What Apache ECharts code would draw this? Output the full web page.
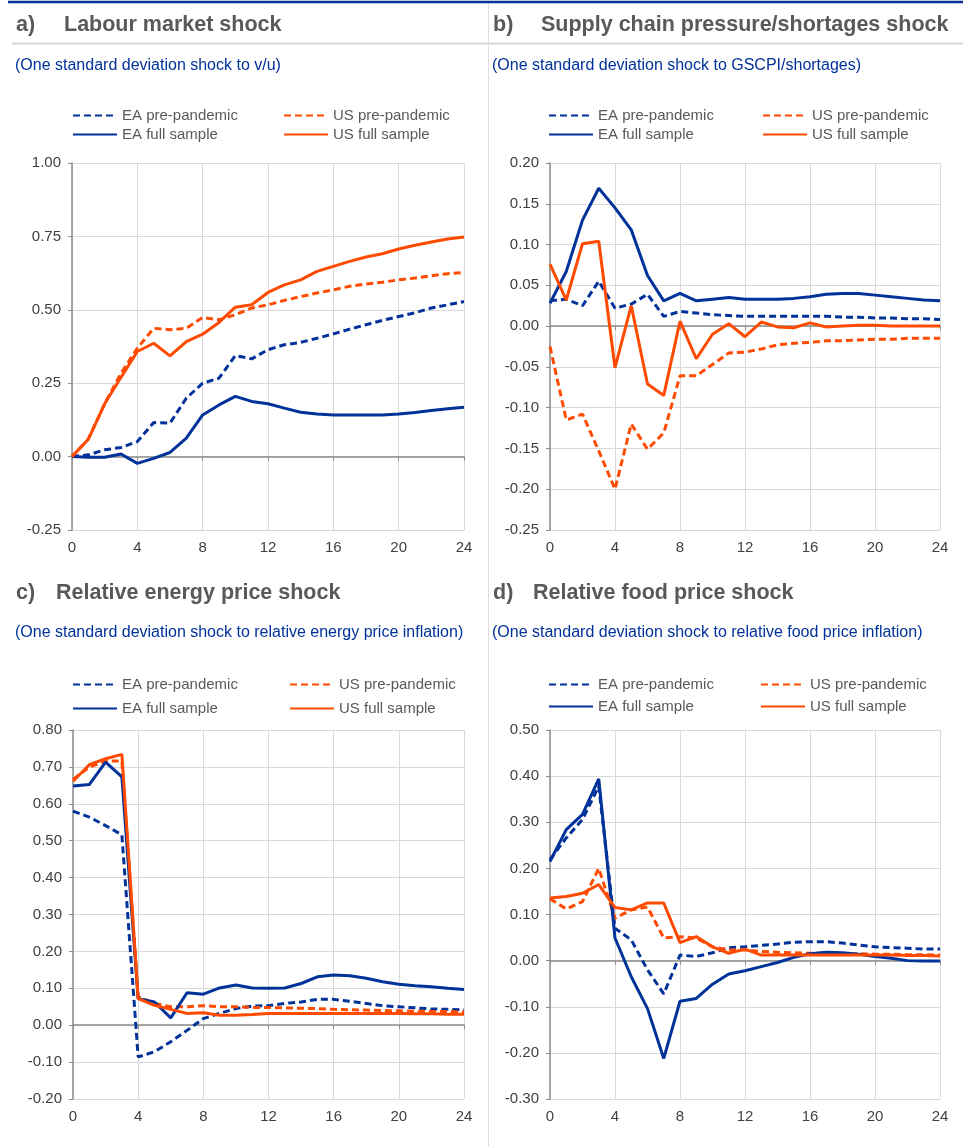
<!DOCTYPE html>
<html>
<head>
<meta charset="utf-8">
<script src="https://cdn.jsdelivr.net/npm/echarts@6/dist/echarts.min.js"></script>
<style>
  html, body { margin: 0; padding: 0; background: #fff; }
  #chart { width: 963px; height: 1146px; }
</style>
</head>
<body>
<div id="chart"></div>
<script>
// horizon in months
var months = [0, 1, 2, 3, 4, 5, 6, 7, 8, 9, 10, 11, 12, 13, 14, 15, 16, 17, 18, 19, 20, 21, 22, 23, 24];
var seriesNames = ['EA pre-pandemic', 'US pre-pandemic', 'EA full sample', 'US full sample'];

// a) labour market shock
var labourEaPre = [0, 0.006, 0.023, 0.031, 0.051, 0.116, 0.114, 0.199, 0.25, 0.267, 0.344, 0.333, 0.364, 0.381, 0.389, 0.403, 0.418, 0.434, 0.449, 0.464, 0.477, 0.49, 0.506, 0.517, 0.528];
var labourUsPre = [0, 0.06, 0.18, 0.284, 0.369, 0.437, 0.432, 0.437, 0.474, 0.466, 0.483, 0.506, 0.517, 0.532, 0.545, 0.557, 0.568, 0.58, 0.588, 0.594, 0.602, 0.608, 0.616, 0.623, 0.627];
var labourEaFull = [0, -0.002, -0.002, 0.009, -0.023, -0.006, 0.014, 0.063, 0.142, 0.176, 0.205, 0.188, 0.18, 0.165, 0.151, 0.145, 0.142, 0.142, 0.142, 0.142, 0.145, 0.15, 0.157, 0.163, 0.168];
var labourUsFull = [0, 0.059, 0.18, 0.27, 0.358, 0.386, 0.343, 0.392, 0.417, 0.457, 0.509, 0.517, 0.559, 0.585, 0.602, 0.631, 0.648, 0.665, 0.68, 0.691, 0.707, 0.72, 0.731, 0.741, 0.748];

// b) supply chain pressure/shortages shock
var supplyEaPre = [0.031, 0.033, 0.025, 0.055, 0.022, 0.027, 0.039, 0.012, 0.018, 0.016, 0.014, 0.013, 0.012, 0.012, 0.012, 0.012, 0.012, 0.012, 0.011, 0.011, 0.010, 0.010, 0.009, 0.009, 0.008];
var supplyUsPre = [-0.025, -0.115, -0.108, -0.153, -0.2, -0.12, -0.151, -0.131, -0.061, -0.061, -0.047, -0.033, -0.032, -0.028, -0.023, -0.021, -0.020, -0.018, -0.018, -0.017, -0.016, -0.016, -0.015, -0.015, -0.015];
var supplyEaFull = [0.028, 0.067, 0.13, 0.169, 0.145, 0.118, 0.062, 0.031, 0.04, 0.031, 0.033, 0.035, 0.033, 0.033, 0.033, 0.034, 0.036, 0.039, 0.04, 0.04, 0.038, 0.036, 0.034, 0.032, 0.031];
var supplyUsFull = [0.076, 0.032, 0.101, 0.104, -0.051, 0.025, -0.071, -0.085, 0.006, -0.04, -0.01, 0.003, -0.013, 0.005, -0.001, -0.002, 0.004, -0.001, 0, 0.001, 0.001, 0, 0, 0, 0];

// c) relative energy price shock
var energyEaPre = [0.58, 0.564, 0.541, 0.516, -0.086, -0.072, -0.045, -0.014, 0.018, 0.032, 0.045, 0.052, 0.053, 0.059, 0.063, 0.07, 0.07, 0.065, 0.059, 0.053, 0.05, 0.047, 0.044, 0.043, 0.041];
var energyUsPre = [0.666, 0.699, 0.716, 0.716, 0.077, 0.059, 0.05, 0.05, 0.053, 0.05, 0.05, 0.048, 0.048, 0.047, 0.046, 0.045, 0.043, 0.042, 0.041, 0.04, 0.039, 0.038, 0.037, 0.037, 0.036];
var energyEaFull = [0.648, 0.652, 0.713, 0.673, 0.072, 0.063, 0.02, 0.088, 0.084, 0.101, 0.109, 0.101, 0.1, 0.101, 0.113, 0.131, 0.136, 0.134, 0.127, 0.118, 0.111, 0.107, 0.104, 0.1, 0.097];
var energyUsFull = [0.661, 0.706, 0.722, 0.734, 0.072, 0.054, 0.043, 0.032, 0.034, 0.027, 0.027, 0.029, 0.032, 0.032, 0.032, 0.032, 0.032, 0.032, 0.032, 0.032, 0.032, 0.031, 0.031, 0.03, 0.03];

// d) relative food price shock
var foodEaPre = [0.219, 0.266, 0.306, 0.378, 0.07, 0.045, -0.02, -0.072, 0.012, 0.009, 0.017, 0.028, 0.03, 0.033, 0.036, 0.04, 0.041, 0.041, 0.038, 0.034, 0.03, 0.028, 0.027, 0.025, 0.025];
var foodUsPre = [0.134, 0.112, 0.128, 0.2, 0.092, 0.11, 0.116, 0.049, 0.052, 0.049, 0.03, 0.023, 0.023, 0.02, 0.018, 0.017, 0.016, 0.016, 0.015, 0.015, 0.014, 0.014, 0.013, 0.013, 0.012];
var foodEaFull = [0.215, 0.284, 0.317, 0.394, 0.049, -0.035, -0.104, -0.212, -0.088, -0.082, -0.051, -0.029, -0.022, -0.013, -0.004, 0.007, 0.015, 0.018, 0.017, 0.014, 0.009, 0.005, 0, -0.001, -0.001];
var foodUsFull = [0.136, 0.139, 0.146, 0.165, 0.115, 0.11, 0.125, 0.125, 0.039, 0.052, 0.03, 0.016, 0.025, 0.012, 0.012, 0.012, 0.012, 0.012, 0.012, 0.012, 0.012, 0.012, 0.011, 0.011, 0.01];

var BLUE = '#003299';
var ORANGE = '#ff4b00';
var FONT = '"Liberation Sans", Arial, sans-serif';

var panels = [
  { tag: 'a)', title: 'Labour market shock', sub: '(One standard deviation shock to v/u)',
    x: 16, titleX: 64, y: 0, grid: { left: 72, width: 392, top: 163, height: 367 },
    ymin: -0.25, ymax: 1.0, step: 0.25, legTop: [108, 127], legX: [72, 283],
    data: [labourEaPre, labourUsPre, labourEaFull, labourUsFull] },
  { tag: 'b)', title: 'Supply chain pressure/shortages shock', sub: '(One standard deviation shock to GSCPI/shortages)',
    x: 493, titleX: 541, y: 0, grid: { left: 550, width: 390, top: 163, height: 367 },
    ymin: -0.25, ymax: 0.2, step: 0.05, legTop: [108, 127], legX: [548, 762],
    data: [supplyEaPre, supplyUsPre, supplyEaFull, supplyUsFull] },
  { tag: 'c)', title: 'Relative energy price shock', sub: '(One standard deviation shock to relative energy price inflation)',
    x: 16, titleX: 56, y: 568, grid: { left: 73, width: 391, top: 730, height: 369 },
    ymin: -0.2, ymax: 0.8, step: 0.1, legTop: [677, 701], legX: [72, 289],
    data: [energyEaPre, energyUsPre, energyEaFull, energyUsFull] },
  { tag: 'd)', title: 'Relative food price shock', sub: '(One standard deviation shock to relative food price inflation)',
    x: 493, titleX: 533, y: 568, grid: { left: 550, width: 390, top: 730, height: 369 },
    ymin: -0.3, ymax: 0.5, step: 0.1, legTop: [677, 699], legX: [548, 760],
    data: [foodEaPre, foodUsPre, foodEaFull, foodUsFull] }
];

var option = {
  backgroundColor: '#fff',
  animation: false,
  title: [], legend: [], grid: [], xAxis: [], yAxis: [], series: [],
  graphic: [
    { type: 'line', shape: { x1: 8, y1: 2, x2: 963, y2: 2 }, style: { stroke: BLUE, lineWidth: 2.5 } },
    { type: 'line', shape: { x1: 12, y1: 43.5, x2: 963, y2: 43.5 }, style: { stroke: '#d6d6d6', lineWidth: 2 } },
    { type: 'line', shape: { x1: 488.5, y1: 4, x2: 488.5, y2: 1146 }, style: { stroke: '#dddddd', lineWidth: 1 } }
  ]
};

panels.forEach(function (p, i) {
  option.title.push(
    { text: p.tag, left: p.x, top: p.y + 14, padding: 0, textStyle: { fontFamily: FONT, fontSize: 21.5, fontWeight: 'bold', color: '#595959' } },
    { text: p.title, left: p.titleX, top: p.y + 14, padding: 0, textStyle: { fontFamily: FONT, fontSize: 21.5, fontWeight: 'bold', color: '#595959' } },
    { text: p.sub, left: p.x - 1, top: p.y + (p.y ? 57 : 58), padding: 0, textStyle: { fontFamily: FONT, fontSize: 16, fontWeight: 'normal', color: BLUE } }
  );
  // legend laid out as 2x2: row 1 pre-pandemic, row 2 full sample
  [0, 1, 2, 3].forEach(function (k) {
    option.legend.push({
      data: [seriesNames[k]],
      left: p.legX[k % 2], top: p.legTop[Math.floor(k / 2)],
      itemWidth: 44, itemHeight: 14, padding: 0,
      itemStyle: { opacity: 0 },
      textStyle: { fontFamily: FONT, fontSize: 15, color: '#595959' }
    });
  });
  option.grid.push(p.grid);
  // bottom axis carries the labels and the vertical gridlines
  option.xAxis.push({
    type: 'value', gridIndex: i, min: 0, max: 24, interval: 4, position: 'bottom',
    axisLine: { show: false, onZero: false }, axisTick: { show: false },
    axisLabel: { fontFamily: FONT, fontSize: 15, color: '#404040', margin: 10 },
    splitLine: { show: true, lineStyle: { color: '#d9d9d9', width: 1 } }
  });
  // second axis only draws the zero line with its ticks
  option.xAxis.push({
    type: 'value', gridIndex: i, min: 0, max: 24, interval: 4, position: 'bottom',
    axisLine: { show: true, onZero: true, lineStyle: { color: '#8c8c8c', width: 1.5 } },
    axisTick: { show: true, length: 4, lineStyle: { color: '#8c8c8c' } },
    axisLabel: { show: false }, splitLine: { show: false }
  });
  option.yAxis.push({
    type: 'value', gridIndex: i, min: p.ymin, max: p.ymax, interval: p.step,
    axisLine: { show: true, lineStyle: { color: '#8c8c8c', width: 1.5 } },
    axisTick: { show: true, length: 4, lineStyle: { color: '#8c8c8c' } },
    axisLabel: { fontFamily: FONT, fontSize: 15, color: '#404040', margin: 11,
      formatter: function (v) { return v.toFixed(2); } },
    splitLine: { show: true, lineStyle: { color: '#d9d9d9', width: 1 } }
  });
  p.data.forEach(function (vals, k) {
    var pts = months.map(function (m, j) { return [m, vals[j]]; });
    option.series.push({
      name: seriesNames[k], type: 'line', xAxisIndex: i * 2, yAxisIndex: i,
      data: pts, symbol: 'none', z: 2 + k,
      lineStyle: { color: k % 2 === 0 ? BLUE : ORANGE, width: 3,
        type: k < 2 ? [7, 4] : 'solid' },
      itemStyle: { color: k % 2 === 0 ? BLUE : ORANGE }
    });
  });
});

var myChart = echarts.init(document.getElementById('chart'));
myChart.setOption(option);
</script>
</body>
</html>
